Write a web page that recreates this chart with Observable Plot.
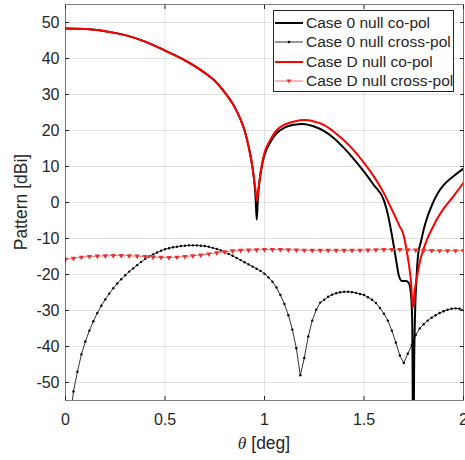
<!DOCTYPE html>
<html>
<head>
<meta charset="utf-8">
<script src="https://cdn.jsdelivr.net/npm/d3@7"></script>
<script src="https://cdn.jsdelivr.net/npm/@observablehq/plot@0.6"></script>
<style>
  body { margin: 0; background: #fff; }
  #wrap { position: relative; width: 465px; height: 460px; font-family: "Liberation Sans", Arial, sans-serif; color: #262626; }
  #legend { position: absolute; left: 273px; top: 10px; width: 181px; height: 82px; box-sizing: border-box;
            border: 1px solid #262626; background: #fff; padding-top: 2px; }
  .row { display: flex; align-items: center; height: 19.5px; font-size: 15.5px; white-space: nowrap; }
  .row svg { flex-shrink: 0; margin-left: 1px; margin-right: 3px; }
  #xlabel { position: absolute; left: 0; width: 528px; top: 433px; text-align: center; font-size: 17.5px; }
  #xlabel i { font-family: "Liberation Serif", "DejaVu Serif", serif; }
  #ylabel { position: absolute; left: 21px; top: 202px; transform: translate(-50%, -50%) rotate(-90deg); font-size: 17.5px; white-space: nowrap; }
</style>
</head>
<body>
<div id="wrap"></div>
<script>
// Axis ticks
const xTicks = [0, 0.5, 1, 1.5, 2];
const yTicks = [-50, -40, -30, -20, -10, 0, 10, 20, 30, 40, 50];

// Main beam, common to both co-pol cases
const beamTheta = [0, 0.1, 0.2, 0.3, 0.4, 0.5, 0.6, 0.65, 0.7, 0.75, 0.8, 0.85, 0.88, 0.9, 0.92, 0.94];
const beamGain  = [48.3, 48.2, 47.6, 46.5, 44.7, 42.2, 39.5, 37.9, 36.0, 33.8, 30.6, 26.5, 23.0, 20.0, 15.6, 9.6];

// Case 0 null, co-pol (beyond the main beam)
const case0CoTheta = [0.95, 0.955, 0.961, 0.967, 0.975, 0.99, 1.0, 1.03, 1.06, 1.1, 1.15, 1.19, 1.25, 1.3, 1.35, 1.4, 1.45, 1.5, 1.55, 1.6, 1.62, 1.64, 1.66, 1.675, 1.69, 1.71, 1.725, 1.735, 1.742, 1.748, 1.752, 1.757, 1.765, 1.772, 1.787, 1.8, 1.82, 1.84, 1.87, 1.9, 1.95, 2.0];
const case0CoGain  = [5.0, 1.5, -4.8, 1.5, 6.0, 11.0, 13.2, 16.8, 19.2, 20.8, 21.6, 21.8, 21.1, 19.8, 17.8, 15.1, 12.0, 8.6, 4.8, 0.6, -3.3, -9.0, -15.5, -20.3, -21.8, -21.8, -22.3, -25.0, -32.0, -75.0, -45.0, -30.0, -20.0, -14.5, -10.7, -7.5, -3.8, -0.9, 2.5, 4.8, 7.3, 9.4];

// Case D null, co-pol (beyond the main beam)
const caseDCoTheta = [0.95, 0.957, 0.962, 0.968, 0.975, 0.985, 1.0, 1.03, 1.06, 1.1, 1.15, 1.2, 1.25, 1.3, 1.35, 1.4, 1.45, 1.5, 1.55, 1.6, 1.63, 1.66, 1.68, 1.696, 1.71, 1.725, 1.737, 1.745, 1.755, 1.77, 1.785, 1.8, 1.82, 1.84, 1.87, 1.9, 1.95, 2.0];
const caseDCoGain  = [5.5, 2.5, 0.5, 3.0, 6.0, 10.0, 13.8, 17.5, 20.0, 21.6, 22.5, 22.9, 22.5, 21.5, 19.6, 17.2, 14.4, 11.0, 7.2, 2.6, -0.8, -4.3, -6.7, -8.5, -12.0, -17.0, -22.5, -29.2, -24.5, -19.5, -15.5, -12.8, -9.8, -7.5, -4.3, -1.7, 1.8, 5.5];

// Case 0 null, cross-pol, sampled every 0.02 deg from 0.02 deg
const case0CrossStep = 0.02;
const case0CrossGain = [
  -62.0, -52.5, -47.0, -42.2, -38.6, -35.6, -33.0, -30.7, -28.7, -26.9,
  -25.3, -23.8, -22.5, -21.3, -20.2, -19.2, -18.3, -17.4, -16.5, -15.7,
  -15.0, -14.4, -13.9, -13.4, -13.0, -12.7, -12.45, -12.3, -12.1, -12.0,
  -11.9, -11.9, -11.9, -12.0, -12.1, -12.3, -12.6, -12.9, -13.3, -13.8,
  -14.3, -14.8, -15.4, -16.0, -16.6, -17.2, -17.8, -18.4, -19.0, -19.8,
  -20.8, -22.0, -23.6, -25.7, -28.2, -31.3, -35.3, -40.5, -48.0, -43.2,
  -37.2, -32.8, -29.8, -27.8, -27.0, -26.2, -25.6, -25.2, -24.95, -24.8,
  -24.8, -24.9, -25.1, -25.4, -25.7, -26.3, -27.0, -27.9, -29.3, -30.9,
  -32.8, -35.6, -38.9, -42.5, -44.6, -42.0, -39.6, -36.8, -35.0, -33.8,
  -32.8, -32.0, -31.3, -30.7, -30.2, -29.8, -29.5, -29.4, -29.5, -29.8
];

// Case D null, cross-pol, sampled every 0.04 deg from 0
const caseDCrossStep = 0.04;
const caseDCrossGain = [
  -15.8, -15.5, -15.2, -15.0, -14.9, -14.8, -14.75, -14.75, -14.8, -14.9,
  -15.0, -15.15, -15.25, -15.3, -15.2, -15.0, -14.8, -14.6, -14.3, -14.0,
  -13.7, -13.45, -13.3, -13.2, -13.15, -13.1, -13.1, -13.1, -13.15, -13.2,
  -13.25, -13.3, -13.3, -13.3, -13.3, -13.3, -13.3, -13.25, -13.2, -13.15,
  -13.1, -13.1, -13.1, -13.15, -13.2, -13.3, -13.35, -13.4, -13.4, -13.4, -13.4
];

const toRows = (thetas, gains) => thetas.map((t, i) => ({theta: t, gain: gains[i]}));
const case0Co = toRows(beamTheta.concat(case0CoTheta), beamGain.concat(case0CoGain));
const caseDCo = toRows(beamTheta.concat(caseDCoTheta), beamGain.concat(caseDCoGain));
const case0Cross = case0CrossGain.map((g, i) => ({theta: +(case0CrossStep * (i + 1)).toFixed(3), gain: g}));
const caseDCross = caseDCrossGain.map((g, i) => ({theta: +(caseDCrossStep * i).toFixed(3), gain: g}));

const axisColor = "#262626";
const fmt = d => String(d);

const chart = Plot.plot({
  width: 465,
  height: 460,
  marginLeft: 65,
  marginRight: 2,
  marginTop: 4,
  marginBottom: 60,
  style: {fontFamily: "'Liberation Sans', Arial, sans-serif", fontSize: "16px", color: axisColor, background: "#fff"},
  x: {domain: [0, 2]},
  y: {domain: [-55, 55]},
  marks: [
    Plot.gridX(xTicks, {stroke: axisColor, strokeOpacity: 0.13}),
    Plot.gridY(yTicks, {stroke: axisColor, strokeOpacity: 0.13}),
    Plot.axisX(xTicks, {anchor: "bottom", tickSize: 0, tickPadding: 13, tickFormat: fmt, label: null}),
    Plot.axisY(yTicks, {anchor: "left", tickSize: 0, tickPadding: 6, tickFormat: fmt, label: null}),
    Plot.axisX(xTicks, {anchor: "bottom", tickSize: -4, tickFormat: () => "", label: null, stroke: axisColor}),
    Plot.axisX(xTicks, {anchor: "top", tickSize: -4, tickFormat: () => "", label: null, stroke: axisColor}),
    Plot.axisY(yTicks, {anchor: "left", tickSize: -4, tickFormat: () => "", label: null, stroke: axisColor}),
    Plot.axisY(yTicks, {anchor: "right", tickSize: -4, tickFormat: () => "", label: null, stroke: axisColor}),
    Plot.line(case0Co, {x: "theta", y: "gain", stroke: "#000", strokeWidth: 2, curve: "monotone-x", clip: true}),
    Plot.line(case0Cross, {x: "theta", y: "gain", stroke: "#000", strokeWidth: 0.8, clip: true}),
    Plot.dot(case0Cross, {x: "theta", y: "gain", r: 1.2, fill: "#000", clip: true}),
    Plot.line(caseDCo, {x: "theta", y: "gain", stroke: "#ff0000", strokeWidth: 2, curve: "monotone-x", clip: true}),
    Plot.line(caseDCross, {x: "theta", y: "gain", stroke: "#f07070", strokeWidth: 1, clip: true}),
    Plot.dot(caseDCross, {x: "theta", y: "gain", symbol: "triangle", r: 2, rotate: 180, fill: "#e83030", clip: true}),
    Plot.frame({stroke: axisColor, strokeOpacity: 0.6})
  ]
});

const wrap = document.getElementById("wrap");
wrap.appendChild(chart);

// Axis titles
const ylab = document.createElement("div");
ylab.id = "ylabel";
ylab.textContent = "Pattern [dBi]";
wrap.appendChild(ylab);

const xlab = document.createElement("div");
xlab.id = "xlabel";
xlab.innerHTML = "<i>θ</i> [deg]";
wrap.appendChild(xlab);

// Legend
const legendItems = [
  {name: "Case 0 null co-pol", stroke: "#000", width: 2, marker: null},
  {name: "Case 0 null cross-pol", stroke: "#000", width: 0.8, marker: "dot"},
  {name: "Case D null co-pol", stroke: "#ff0000", width: 2, marker: null},
  {name: "Case D null cross-pol", stroke: "#f07070", width: 1, marker: "tri"}
];
const legend = document.createElement("div");
legend.id = "legend";
for (const it of legendItems) {
  const row = document.createElement("div");
  row.className = "row";
  let m = "";
  if (it.marker === "dot") m = `<circle cx="14" cy="6" r="1.3" fill="#000"/>`;
  if (it.marker === "tri") m = `<path d="M11.5,4.5L16.5,4.5L14,8.5Z" fill="#e83030"/>`;
  row.innerHTML = `<svg width="28" height="12"><line x1="0" x2="28" y1="6" y2="6" stroke="${it.stroke}" stroke-width="${it.width}"/>${m}</svg><span>${it.name}</span>`;
  legend.appendChild(row);
}
wrap.appendChild(legend);
</script>
</body>
</html>
